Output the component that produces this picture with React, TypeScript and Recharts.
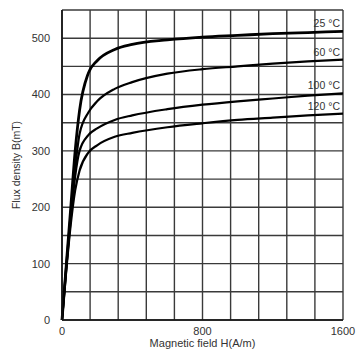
import { CartesianGrid, Label, Line, LineChart, XAxis, YAxis } from 'recharts';

// Magnetic field H (A/m)
const fieldH = [0, 10, 25, 50, 75, 100, 150, 200, 300, 400, 600, 800, 1000, 1200, 1400, 1600];

// Flux density B (mT) per temperature
const b25 = [0, 40, 100, 200, 300, 372, 438, 460, 480, 489, 497, 502, 505, 508, 510, 512];
const b60 = [0, 40, 100, 190, 270, 330, 368, 388, 410, 422, 437, 445, 450, 455, 459, 462];
const b100 = [0, 38, 95, 180, 255, 300, 328, 340, 355, 363, 374, 382, 388, 393, 398, 402];
const b120 = [0, 36, 90, 170, 230, 265, 297, 310, 325, 332, 342, 349, 355, 359, 363, 366];

const seriesNames = ['25 °C', '60 °C', '100 °C', '120 °C'];
const seriesKeys = ['t25', 't60', 't100', 't120'];

const xTicks = [0, 160, 320, 480, 640, 800, 960, 1120, 1280, 1440, 1600];
const xLabeled = [0, 800, 1600];
const yTicks = [0, 50, 100, 150, 200, 250, 300, 350, 400, 450, 500, 550];
const yLabeled = [0, 100, 200, 300, 400, 500];

const data = fieldH.map((h, i) => ({
  h,
  t25: b25[i],
  t60: b60[i],
  t100: b100[i],
  t120: b120[i],
}));

const FONT = '"Liberation Sans", Arial, sans-serif';

function endLabel(name: string) {
  return (props: any) => {
    const { x, y, index } = props;
    if (index !== fieldH.length - 1) return null;
    return (
      <text
        x={x - 3}
        y={y - 4}
        textAnchor="end"
        fontSize={10.5}
        fontFamily={FONT}
        fill="#333"
      >
        {name}
      </text>
    );
  };
}

export default function App() {
  return (
    <div style={{ position: 'absolute', left: 0, top: 0, background: '#fff' }}>
      <LineChart
        width={361}
        height={353}
        data={data}
        margin={{ top: 10, right: 18, left: 0, bottom: 0 }}
      >
        <CartesianGrid stroke="#3a3a3a" strokeWidth={1.4} />
        <XAxis
          dataKey="h"
          type="number"
          domain={[0, 1600]}
          ticks={xTicks}
          interval={0}
          tickFormatter={(v: number) => (xLabeled.includes(v) ? String(v) : '')}
          tickLine={false}
          axisLine={{ stroke: '#111', strokeWidth: 1.6 }}
          height={33}
          tick={{ fontSize: 11, fill: '#333', fontFamily: FONT }}
          tickMargin={1}
        >
          <Label
            value="Magnetic field H(A/m)"
            position="insideBottom"
            offset={6}
            style={{ fontSize: 11, fill: '#333', fontFamily: FONT }}
          />
        </XAxis>
        <YAxis
          type="number"
          domain={[0, 550]}
          ticks={yTicks}
          interval={0}
          tickFormatter={(v: number) => (yLabeled.includes(v) ? String(v) : '')}
          tickLine={false}
          axisLine={{ stroke: '#111', strokeWidth: 1.6 }}
          width={62}
          tick={{ fontSize: 11, fill: '#333', fontFamily: FONT }}
          tickMargin={6}
        >
          <Label
            value="Flux density B(mT)"
            angle={-90}
            position="insideLeft"
            offset={16}
            style={{ fontSize: 10.5, fill: '#333', fontFamily: FONT, textAnchor: 'middle' }}
          />
        </YAxis>
        {seriesKeys.map((key, idx) => (
          <Line
            key={key}
            dataKey={key}
            type="monotone"
            stroke="#000"
            strokeWidth={idx === 0 ? 2.8 : 2.2}
            dot={false}
            isAnimationActive={false}
            label={endLabel(seriesNames[idx])}
          />
        ))}
      </LineChart>
    </div>
  );
}
